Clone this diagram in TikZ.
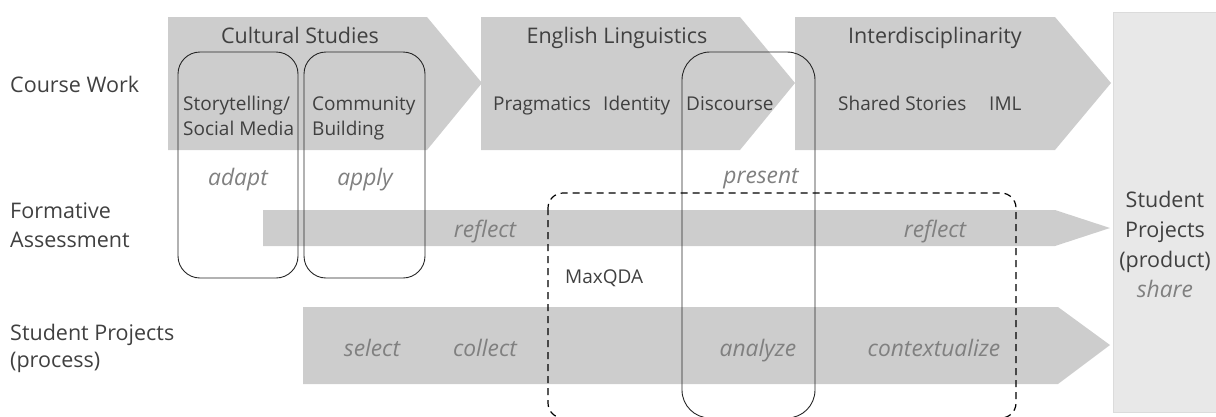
\documentclass[tikz,border=0pt]{standalone}
\usepackage{fontspec}
\setmainfont{Open Sans}
\definecolor{chev}{HTML}{CDCDCD}
\definecolor{prodfill}{HTML}{E8E8E8}
\definecolor{lbl}{HTML}{404040}
\definecolor{verbc}{HTML}{808080}
\begin{document}
\begin{tikzpicture}[x=1pt,y=-1pt,
  rowlbl/.style={anchor=base west,inner sep=0pt,text=lbl,font=\fontsize{21.5}{28}\selectfont,align=left},
  headlbl/.style={anchor=base,inner sep=0pt,text=lbl,font=\fontsize{21.5}{26}\selectfont},
  innerlbl/.style={anchor=base west,inner sep=0pt,text=lbl,font=\fontsize{19}{25}\selectfont,align=left},
  verblbl/.style={anchor=base,inner sep=0pt,text=verbc,font=\fontsize{22.8}{26}\selectfont\itshape},
  ovalbox/.style={draw=black!85,line width=0.9pt},
  dashbox/.style={draw=black,line width=1.2pt,dash pattern=on 7pt off 5pt,rounded corners=15pt}]
\useasboundingbox (0,0) rectangle (1216,416);
% course work chevrons
\fill[chev] (168,17) -- (427,17) -- (482,83) -- (427,150) -- (168,150) -- cycle;
\fill[chev] (481,17) -- (740,17) -- (795,83) -- (740,150) -- (481,150) -- cycle;
\fill[chev] (795,17) -- (1055,17) -- (1111,83) -- (1055,150) -- (795,150) -- cycle;
% formative assessment arrow
\fill[chev] (263,210) -- (1055,210) -- (1110,228) -- (1055,246) -- (263,246) -- cycle;
% process arrow
\fill[chev] (303,307) -- (1058,307) -- (1110,345) -- (1058,384) -- (303,384) -- cycle;
% product box
\filldraw[fill=prodfill,draw=black!14,line width=0.8pt] (1113,12) rectangle (1222,412);
% rounded boxes
\draw[ovalbox,rounded corners=22pt] (178,52) rectangle (298,278);
\draw[ovalbox,rounded corners=22pt] (304,52) rectangle (425,278);
\draw[ovalbox,rounded corners=28pt] (682,52) rectangle (815,418);
% dashed box
\draw[dashbox] (548,193) rectangle (1016,418);
% row labels
\node[rowlbl] (cw) at (10,92) {Course Work};
\node[rowlbl] (fa1) at (10,218) {Formative};
\node[rowlbl] (fa2) at (10,247) {Assessment};
\node[rowlbl] (sp1) at (10,340) {Student Projects};
\node[rowlbl] (sp2) at (10,367) {(process)};
% headings
\node[headlbl] (cs) at (300,43) {Cultural Studies};
\node[headlbl] (el) at (617,43) {English Linguistics};
\node[headlbl] (id) at (935,43) {Interdisciplinarity};
% inner items
\node[innerlbl] (st1) at (183,110) {Storytelling/};
\node[innerlbl] (st2) at (183,135) {Social Media};
\node[innerlbl] (cb1) at (312,110) {Community};
\node[innerlbl] (cb2) at (312,135) {Building};
\node[innerlbl] (pr) at (493,110) {Pragmatics};
\node[innerlbl] (idn) at (603,110) {Identity};
\node[innerlbl] (di) at (686,110) {Discourse};
\node[innerlbl] (ss) at (838,110) {Shared Stories};
\node[innerlbl] (iml) at (989,110) {IML};
% verbs
\node[verblbl] (adapt) at (238,185) {adapt};
\node[verblbl] (apply) at (365,185) {apply};
\node[verblbl] (present) at (761,183) {present};
\node[verblbl] (refl1) at (485,237) {reflect};
\node[verblbl] (refl2) at (935,237) {reflect};
\node[verblbl] (select) at (372,356) {select};
\node[verblbl] (collect) at (485,356) {collect};
\node[verblbl] (analyze) at (758,356) {analyze};
\node[verblbl] (context) at (934,356) {contextualize};
\node[innerlbl] (mq) at (565,283) {MaxQDA};
% product
\node[headlbl] (pp1) at (1165,207) {Student};
\node[headlbl] (pp2) at (1165,237) {Projects};
\node[headlbl] (pp3) at (1165,267) {(product)};
\node[verblbl] (share) at (1165,297) {share};
\end{tikzpicture}
\end{document}
